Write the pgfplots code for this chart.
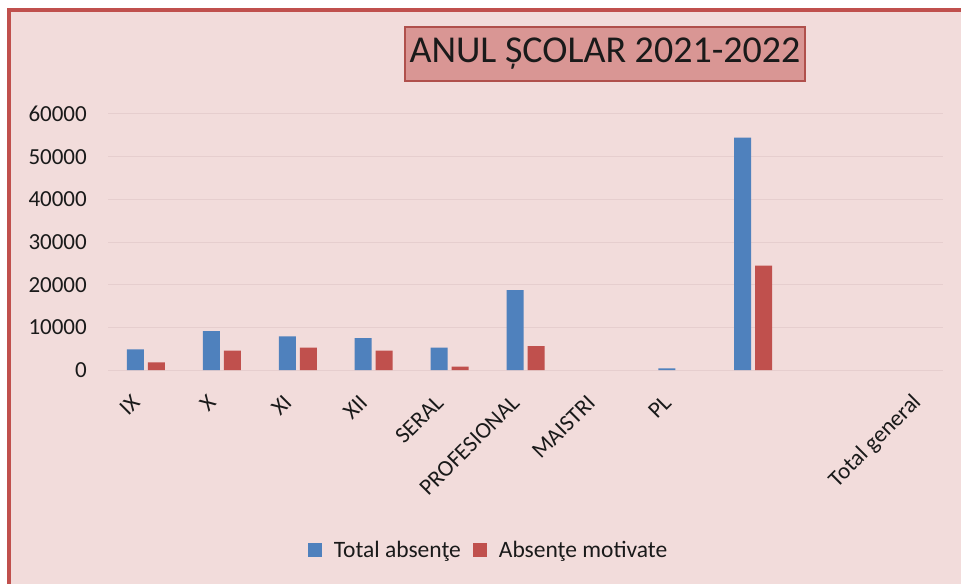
\documentclass[border=0pt]{standalone}
\usepackage{fontspec}
\setmainfont{Carlito}
\usepackage{pgfplots}
\usepackage{pgfplotstable}
\pgfplotsset{compat=1.18}

\definecolor{bgpink}{HTML}{F2DCDB}
\definecolor{frame}{HTML}{C0504D}
\definecolor{titlefill}{HTML}{D99694}
\definecolor{titledraw}{HTML}{B0504C}
\definecolor{gridc}{HTML}{E6CECE}
\definecolor{serblue}{HTML}{4F81BD}
\definecolor{serred}{HTML}{C0504D}
\definecolor{txt}{HTML}{1A1A1A}

% total / motivate per category (index 8 has no label in the original)
\pgfplotstableread{
x total motivate
0 4850 1800
1 9140 4530
2 7890 5230
3 7500 4530
4 5230 780
5 18750 5620
6 nan nan
7 390 nan
8 54450 24450
9 nan nan
10 nan nan
}\absente

\begin{document}
\begin{tikzpicture}
% page frame: 961 x 584
\path[use as bounding box] (0,0) rectangle (961pt,584pt);
\fill[white] (0,0) rectangle (961pt,584pt);
\fill[bgpink] (7pt,0) rectangle (961pt,576pt);
\fill[frame] (7pt,572pt) rectangle (961pt,576pt);
\fill[frame] (7pt,0) rectangle (11pt,576pt);

\node[fill=titlefill, draw=titledraw, line width=1.2pt,
      minimum width=400pt, minimum height=54pt, inner sep=0pt,
      text=txt, font=\fontsize{38}{40}\selectfont]
  at (605pt,530pt) {ANUL ȘCOLAR 2021-2022};

\begin{axis}[
    at={(108pt,214pt)}, anchor=south west,
    scale only axis,
    width=835pt, height=256pt,
    xmin=-0.5, xmax=10.5,
    ymin=0, ymax=60000,
    ytick={0,10000,...,60000},
    xtick={0,1,2,3,4,5,6,7,10.3},
    xticklabels={IX,X,XI,XII,SERAL,PROFESIONAL,MAISTRI,PL,Total general},
    scaled y ticks=false,
    /pgf/number format/.cd, 1000 sep={}, assume math mode=true,
    /pgfplots/.cd,
    axis line style={draw=none},
    major tick length=0pt,
    ymajorgrids=true,
    grid style={gridc, line width=1pt},
    tick label style={text=txt, font=\fontsize{23}{25}\selectfont},
    yticklabel style={anchor=east, inner sep=0pt, xshift=-21pt},
    xticklabel style={anchor=east, inner sep=0pt, xshift=-10pt, yshift=-29pt, rotate=45},
    ybar, bar width=17pt,
    unbounded coords=discard,
    legend columns=2,
    legend style={at={(0.4557,-0.703)}, anchor=center, draw=none, fill=none,
        font=\fontsize{23.5}{25}\selectfont, text=txt,
        /tikz/every even column/.append style={column sep=10pt}},
    legend image code/.code={\fill[#1] (0pt,-7pt) rectangle (14pt,7pt);
        \path (24pt,0pt);},
]
\addplot[fill=serblue, draw=none, bar shift=-10.5pt] table[x=x, y=total] {\absente};
\addplot[fill=serred, draw=none, bar shift=10.5pt] table[x=x, y=motivate] {\absente};
\legend{Total absenţe, Absenţe motivate}
\end{axis}
\end{tikzpicture}
\end{document}
